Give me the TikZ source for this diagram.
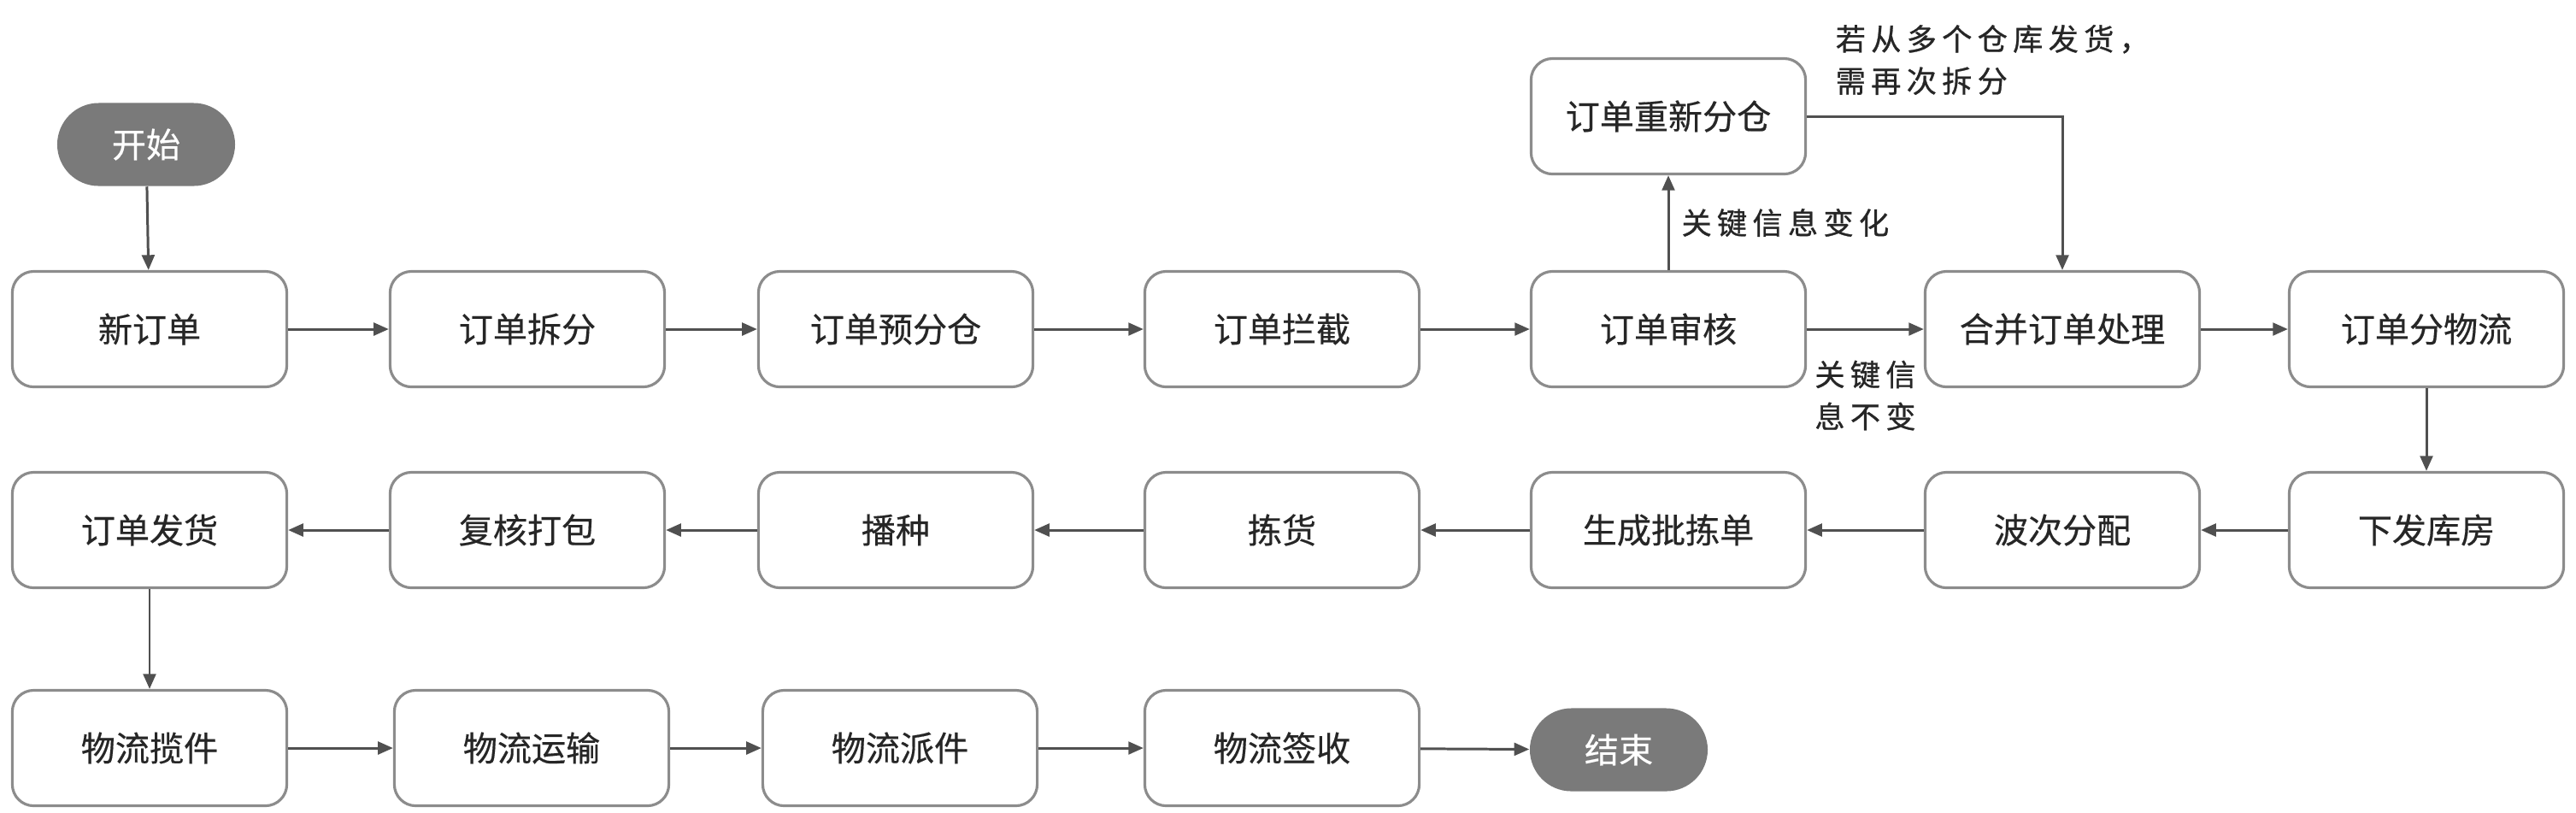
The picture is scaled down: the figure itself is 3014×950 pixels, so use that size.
\documentclass[tikz,border=0pt]{standalone}
\usepackage{fontspec}
\newfontfamily\cjk{Noto Sans CJK SC}[FakeBold=0.4]
\newfontfamily\notefont{Noto Sans CJK SC}[LetterSpace=18, FakeBold=0.8]
\usetikzlibrary{arrows.meta, shapes.misc}
\definecolor{boxline}{HTML}{8C8C8C}
\definecolor{arrowgray}{HTML}{505050}
\definecolor{termfill}{HTML}{7A7A7A}

\begin{document}
\begin{tikzpicture}[
  x=0.01cm, y=-0.01cm,
  font=\cjk\fontsize{11.4}{14}\selectfont, >={Triangle[length=5pt, width=4.2pt]},
  box/.style={draw=boxline, line width=0.9pt, rounded corners=0.25cm, fill=white, text=black!85, inner sep=2pt},
  stepbox/.style={box, minimum width=3.21cm, minimum height=1.35cm},
  term/.style={rounded rectangle, fill=termfill, text=white, minimum width=2.22cm, minimum height=0.97cm, inner sep=2pt},
  note/.style={font=\notefont\fontsize{10}{14}\selectfont, text=black!85, align=left, inner sep=2pt},
  flow/.style={->, line width=0.85pt, arrowgray},
]
\useasboundingbox (0,0) rectangle (3014,950);
% ---- start + row 1: order handling ----
\node[term] (start) at (171,169) {开始};
\node[stepbox] (neworder)  at (175,385)  {新订单};
\node[stepbox] (split)     at (617,385)  {订单拆分};
\node[stepbox] (presort)   at (1048,385) {订单预分仓};
\node[stepbox] (intercept) at (1500,385) {订单拦截};
\node[stepbox] (audit)     at (1952,385) {订单审核};
\node[stepbox] (merge)     at (2413,385) {合并订单处理};
\node[stepbox] (logis)     at (2839,385) {订单分物流};
\node[stepbox] (realloc)   at (1952,136) {订单重新分仓};
% ---- row 2: warehouse ----
\node[stepbox] (ship)      at (175,620)  {订单发货};
\node[stepbox] (pack)      at (617,620)  {复核打包};
\node[stepbox] (sow)       at (1048,620) {播种};
\node[stepbox] (pick)      at (1500,620) {拣货};
\node[stepbox] (picklist)  at (1952,620) {生成批拣单};
\node[stepbox] (wave)      at (2413,620) {波次分配};
\node[stepbox] (dispatch)  at (2839,620) {下发库房};
% ---- row 3: delivery + end ----
\node[stepbox] (collect)   at (175,875)  {物流揽件};
\node[stepbox] (transport) at (622,875)  {物流运输};
\node[stepbox] (deliver)   at (1053,875) {物流派件};
\node[stepbox] (sign)      at (1500,875) {物流签收};
\node[term] (finish) at (1894,877) {结束};
% ---- notes ----
\node[note, anchor=west] (splitnote) at (2140,70) {若从多个仓库发货，\\需再次拆分};
% ---- edges ----
\draw[flow] (start) -- (neworder);
\draw[flow] (neworder) -- (split);
\draw[flow] (split) -- (presort);
\draw[flow] (presort) -- (intercept);
\draw[flow] (intercept) -- (audit);
\draw[flow] (audit) -- (realloc)
  node[midway, right=2pt, note] (changed) {关键信息变化};
\draw[flow] (audit) -- (merge)
  node[midway, below=8pt, note] (unchanged) {关键信\\息不变};
\draw[flow] (realloc.east) -| (merge.north);
\draw[flow] (merge) -- (logis);
\draw[flow] (logis) -- (dispatch);
\draw[flow] (dispatch) -- (wave);
\draw[flow] (wave) -- (picklist);
\draw[flow] (picklist) -- (pick);
\draw[flow] (pick) -- (sow);
\draw[flow] (sow) -- (pack);
\draw[flow] (pack) -- (ship);
\draw[flow] (ship) -- (collect);
\draw[flow] (collect) -- (transport);
\draw[flow] (transport) -- (deliver);
\draw[flow] (deliver) -- (sign);
\draw[flow] (sign) -- (finish);
\end{tikzpicture}
\end{document}
